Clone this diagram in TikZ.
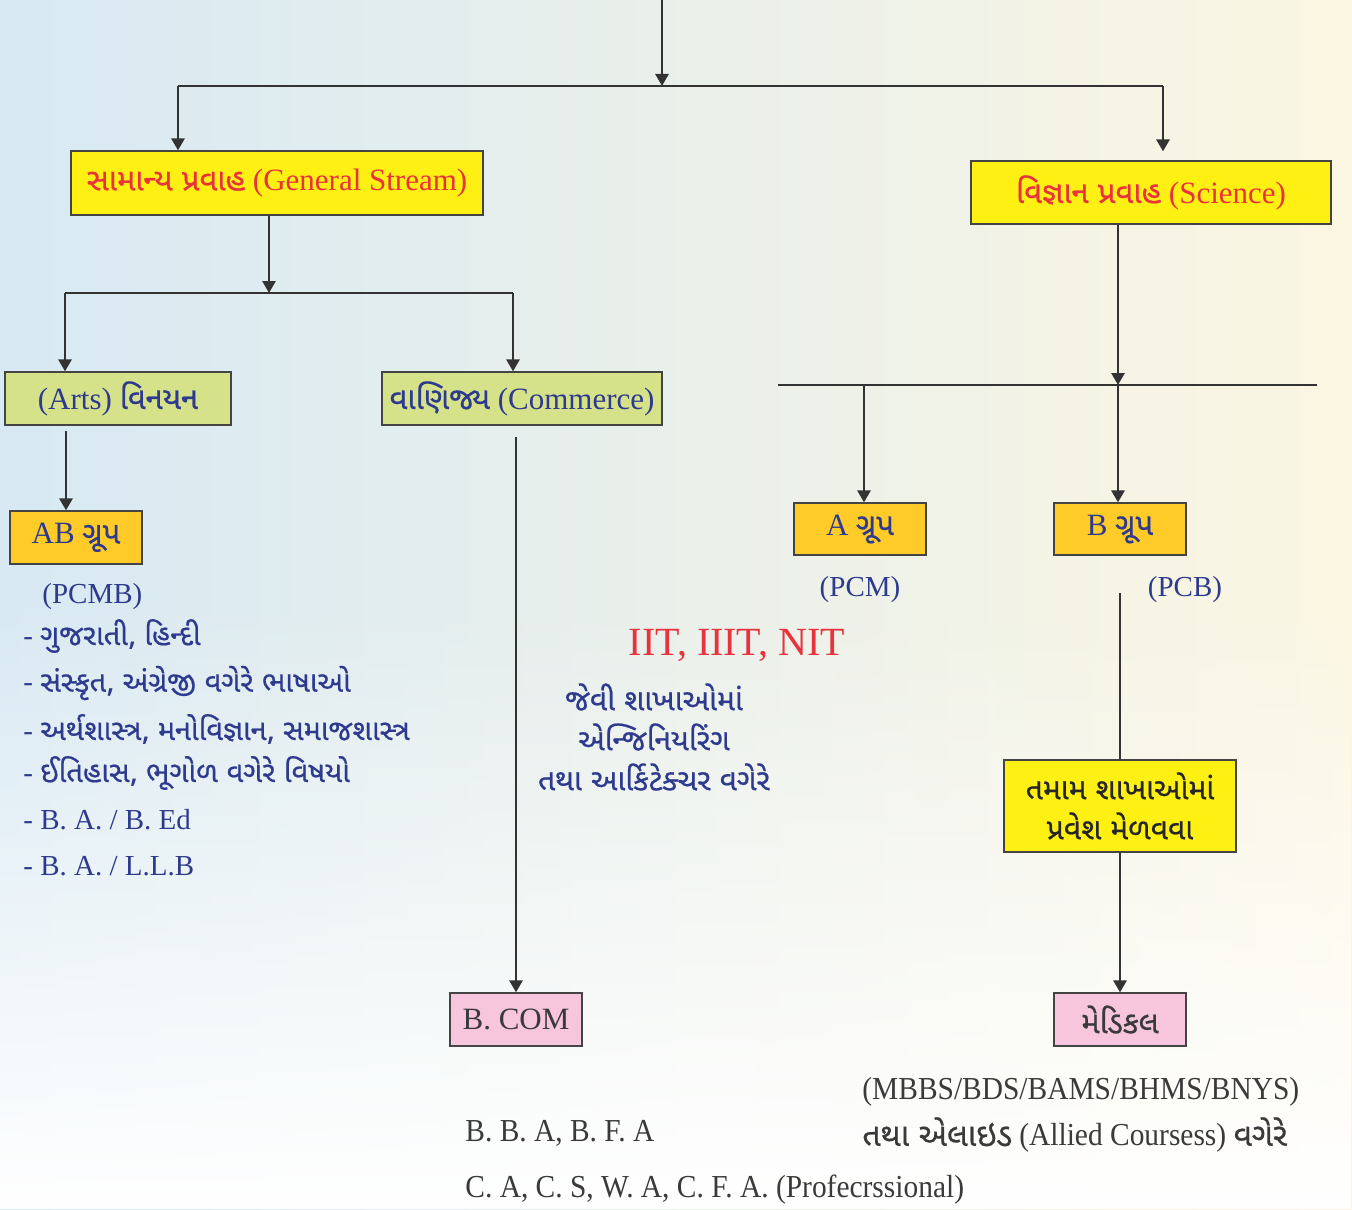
\documentclass[tikz,border=0pt]{standalone}
\usepackage{fontspec}
\setmainfont{Liberation Serif}
\newfontfamily\guj[Script=Gujarati,FakeBold=0.6]{Noto Sans Gujarati UI}
\newfontfamily\condserif[FakeStretch=0.92]{Liberation Serif}
\usetikzlibrary{arrows.meta,fadings}
\definecolor{boxyellow}{HTML}{FFF014}
\definecolor{boxorange}{HTML}{FFCB29}
\definecolor{boxgreen}{HTML}{D6E28A}
\definecolor{boxpink}{HTML}{F7C5DC}
\definecolor{streamred}{HTML}{E8323C}
\definecolor{textblue}{HTML}{2E3A8E}
\definecolor{linegray}{HTML}{333333}
\definecolor{boxedge}{HTML}{444444}
\definecolor{footgray}{HTML}{3A3A3A}
\definecolor{bgblue}{HTML}{D8E9F3}
\definecolor{bgcream}{HTML}{FBF6E2}
\tikzset{
  flow/.style={draw=linegray, line width=1.4pt},
  flowarr/.style={flow, -{Triangle[width=6.5pt,length=6pt]}},
  box/.style={draw=boxedge, line width=0.6pt, inner sep=0pt, font=\fontsize{15.5}{18}\selectfont},
  stream/.style={box, fill=boxyellow, text=streamred},
  branch/.style={box, fill=boxgreen, text=textblue},
  grp/.style={box, fill=boxorange, text=textblue},
  degree/.style={box, fill=boxpink, text=footgray},
  note/.style={text=textblue, font=\fontsize{14.5}{17}\selectfont, inner sep=0pt},
  foot/.style={text=footgray, font=\condserif\fontsize{16}{19}\selectfont, inner sep=0pt, anchor=west},
}
\begin{document}
\begin{tikzpicture}[x=0.5pt,y=-0.5pt]
\useasboundingbox (0,0) rectangle (1352,1209);
% background
\fill[left color=bgblue, right color=bgcream] (0,0) rectangle (1352,1209);
\fill[white, path fading=north] (0,600) rectangle (1352,1209);

% boxes
\node[stream, minimum width=206pt, minimum height=32pt] (gen) at (277,183) {{\guj સામાન્ય પ્રવાહ} (General Stream)};
\node[stream, minimum width=180pt, minimum height=31.5pt] (sci) at (1151,192.5) {{\guj વિજ્ઞાન પ્રવાહ} (Science)};
\node[branch, minimum width=113pt, minimum height=26.5pt] (arts) at (118,398.5) {(Arts) {\guj વિનયન}};
\node[branch, minimum width=140pt, minimum height=26.5pt] (com) at (522,398.5) {{\guj વાણિજ્ય} (Commerce)};
\node[grp, minimum width=66pt, minimum height=26.5pt] (ab) at (76,537.5) {AB {\guj ગ્રૂપ}};
\node[grp, minimum width=66pt, minimum height=26pt] (agrp) at (860,529) {A {\guj ગ્રૂપ}};
\node[grp, minimum width=66pt, minimum height=26pt] (bgrp) at (1120,529) {B {\guj ગ્રૂપ}};
\node[box, fill=boxyellow, text=black!85, align=center, minimum width=116pt, minimum height=46pt, font=\guj\fontsize{15}{20}\selectfont] (admit) at (1120,806) {તમામ શાખાઓમાં\\પ્રવેશ મેળવવા};
\node[degree, minimum width=66pt, minimum height=26.5pt] (bcom) at (516,1019.5) {B. COM};
\node[degree, minimum width=66pt, minimum height=26.5pt] (med) at (1120,1019.5) {{\guj મેડિકલ}};

% joints
\coordinate (root) at (662,0);
\coordinate (rootbar) at (662,86);
\coordinate (genbar) at (178,86);
\coordinate (scibar) at (1163,86);
\coordinate (genmid) at (269,293);
\coordinate (artsbar) at (65,293);
\coordinate (combar) at (513,293);
\coordinate (artsdrop) at (66,431);
\coordinate (comdrop) at (516,437);
\coordinate (scimid) at (1118,385);
\coordinate (sciL) at (778,385);
\coordinate (sciR) at (1317,385);
\coordinate (adrop) at (864,385);
\coordinate (bdrop) at (1120,593);

% connectors
\draw[flowarr] (root) -- (rootbar);
\draw[flow] (genbar) -- (scibar);
\draw[flowarr] (genbar) -- (genbar |- gen.north);
\draw[flowarr, shorten >=4.5pt] (scibar) -- (scibar |- sci.north);
\draw[flowarr] (gen.south -| genmid) -- (genmid);
\draw[flow] (artsbar) -- (combar);
\draw[flowarr] (artsbar) -- (artsbar |- arts.north);
\draw[flowarr] (combar) -- (combar |- com.north);
\draw[flowarr] (artsdrop) -- (artsdrop |- ab.north);
\draw[flowarr] (comdrop) -- (bcom.north);
\draw[flowarr] (sci.south -| scimid) -- (scimid);
\draw[flow] (sciL) -- (sciR);
\draw[flowarr] (adrop) -- (adrop |- agrp.north);
\draw[flowarr] (scimid) -- (scimid |- bgrp.north);
\draw[flow] (bdrop) -- (admit.north);
\draw[flowarr] (admit.south) -- (med.north);

% arts subjects
\node[note, anchor=west] (pcmb) at (42,597) {(PCMB)};
\node[note, anchor=west] (lang1) at (23,636) {- {\guj ગુજરાતી, હિન્દી}};
\node[note, anchor=west] (lang2) at (23,683) {- {\guj સંસ્કૃત, અંગ્રેજી વગેરે ભાષાઓ}};
\node[note, anchor=west] (social) at (23,729) {- {\guj અર્થશાસ્ત્ર, મનોવિજ્ઞાન, સમાજશાસ્ત્ર}};
\node[note, anchor=west] (hist) at (23,773) {- {\guj ઈતિહાસ, ભૂગોળ વગેરે વિષયો}};
\node[note, anchor=west] (baed) at (23,820) {- B. A. / B. Ed};
\node[note, anchor=west] (ballb) at (23,866) {- B. A. / L.L.B};

% science notes
\node[note] (pcm) at (860,590) {(PCM)};
\node[note] (pcb) at (1185,590) {(PCB)};
\node[note, text=streamred, font=\fontsize{20}{24}\selectfont] (iit) at (737,645) {IIT, IIIT, NIT};
\node[note, align=center, font=\guj\fontsize{15}{20}\selectfont] (engg) at (654,737) {જેવી શાખાઓમાં\\એન્જિનિયરિંગ\\તથા આર્કિટેક્ચર વગેરે};

% footer notes
\node[foot] (mbbs) at (862,1092) {(MBBS/BDS/BAMS/BHMS/BNYS)};
\node[foot] (allied) at (862,1135) {{\guj તથા એલાઇડ} (Allied Coursess) {\guj વગેરે}};
\node[foot] (bba) at (465,1133) {B. B. A, B. F. A};
\node[foot] (prof) at (465,1190) {C. A, C. S, W. A, C. F. A. (Profecrssional)};
\end{tikzpicture}
\end{document}
